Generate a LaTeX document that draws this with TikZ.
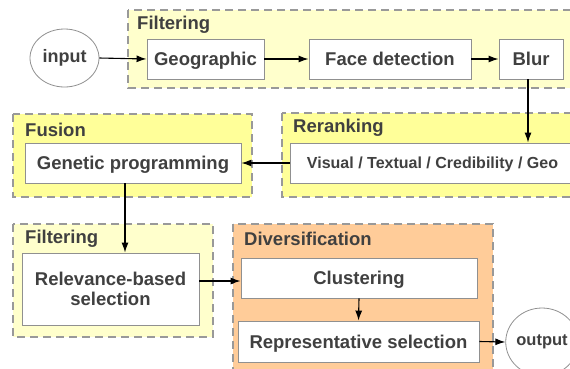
\documentclass[tikz,border=0pt]{standalone}
\usepackage{fontspec}
\setmainfont{Liberation Sans}
\usetikzlibrary{arrows.meta,shapes.geometric,calc}
\definecolor{txt}{HTML}{404040}
\definecolor{lightyel}{HTML}{FFFFCC}
\definecolor{yel}{HTML}{FFFF99}
\definecolor{orng}{HTML}{FFCC99}
\definecolor{grp}{HTML}{999999}
\definecolor{bx}{HTML}{909090}
\tikzset{
  grpbox/.style={draw=grp,line width=1.3pt,dash pattern=on 8pt off 5pt},
  grplabel/.style={anchor=west,inner sep=0pt,text=txt,font=\fontsize{18.5}{20}\selectfont\bfseries},
  stepbox/.style={draw=bx,fill=white,line width=0.9pt,text=txt,font=\fontsize{18.5}{20}\selectfont\bfseries,inner sep=0pt,align=center},
  oneline/.style={text height=13.3pt,text depth=0pt},
  termnode/.style={ellipse,draw=bx,line width=0.8pt,fill=white,text=txt,font=\fontsize{18}{20}\selectfont\bfseries,inner sep=0pt},
  flow/.style={-{Latex[length=10pt,width=7pt]},line width=1.1pt,black}
}
\begin{document}
\begin{tikzpicture}[x=1pt,y=-1pt]
\clip (0,0) rectangle (570,368);
\fill[white] (0,0) rectangle (570,368);
% groups
\draw[grpbox,fill=lightyel] (128,10) rectangle (590,88);
\node[grplabel] (gfilt1) at (137,25) {Filtering};
\draw[grpbox,fill=yel] (282,113) rectangle (590,197);
\node[grplabel] (grerank) at (293,128) {Reranking};
\draw[grpbox,fill=yel] (13,114) rectangle (252,197);
\node[grplabel] (gfusion) at (25,130) {Fusion};
\draw[grpbox,fill=lightyel] (13,224) rectangle (213,337);
\node[grplabel] (gfilt2) at (25,239) {Filtering};
\draw[grpbox,fill=orng] (233,224) rectangle (493,380);
\node[grplabel] (gdiv) at (244,239) {Diversification};
% steps
\node[termnode,minimum width=69pt,minimum height=58pt] (input) at (64.5,58) {input};
\node[stepbox,oneline,minimum width=117pt,minimum height=40pt] (geo) at (205.5,59) {Geographic};
\node[stepbox,oneline,minimum width=162pt,minimum height=40pt] (face) at (390,59) {Face detection};
\node[stepbox,oneline,minimum width=64pt,minimum height=40pt] (blur) at (531,59) {Blur};
\node[stepbox,minimum width=285pt,minimum height=40pt,font=\fontsize{16}{18}\selectfont\bfseries,text height=11.5pt,text depth=0pt] (rerank) at (432.5,163) {Visual / Textual / Credibility / Geo};
\node[stepbox,oneline,minimum width=216pt,minimum height=40pt] (genetic) at (133,163) {Genetic programming};
\node[stepbox,minimum width=177pt,minimum height=72pt] (relev) at (110.5,289) {Relevance-based\\selection};
\node[stepbox,oneline,minimum width=236pt,minimum height=40pt] (clust) at (359,278) {Clustering};
\node[stepbox,oneline,minimum width=241pt,minimum height=41pt] (rep) at (358.5,341.5) {Representative selection};
\node[termnode,minimum width=68pt,minimum height=68pt,font=\fontsize{16.5}{18}\selectfont\bfseries] (output) at (542,342) {output};
% connectors
\coordinate (bx) at (528,0);
\coordinate (gx) at (125,0);
\coordinate (ry) at (0,281);
\draw[flow] (input.east) -- (geo.west);
\draw[flow] (geo.east) -- (face.west);
\draw[flow] (face.east) -- (blur.west);
\draw[flow] (blur.south -| bx) -- (rerank.north -| bx);
\draw[flow] (rerank.west) -- (genetic.east);
\draw[flow] (genetic.south -| gx) -- (relev.north -| gx);
\draw[flow] (relev.east |- ry) -- (clust.west |- ry);
\draw[flow] (clust.south) -- (rep.north);
\draw[flow] (rep.east) -- (output.west);
\end{tikzpicture}
\end{document}
